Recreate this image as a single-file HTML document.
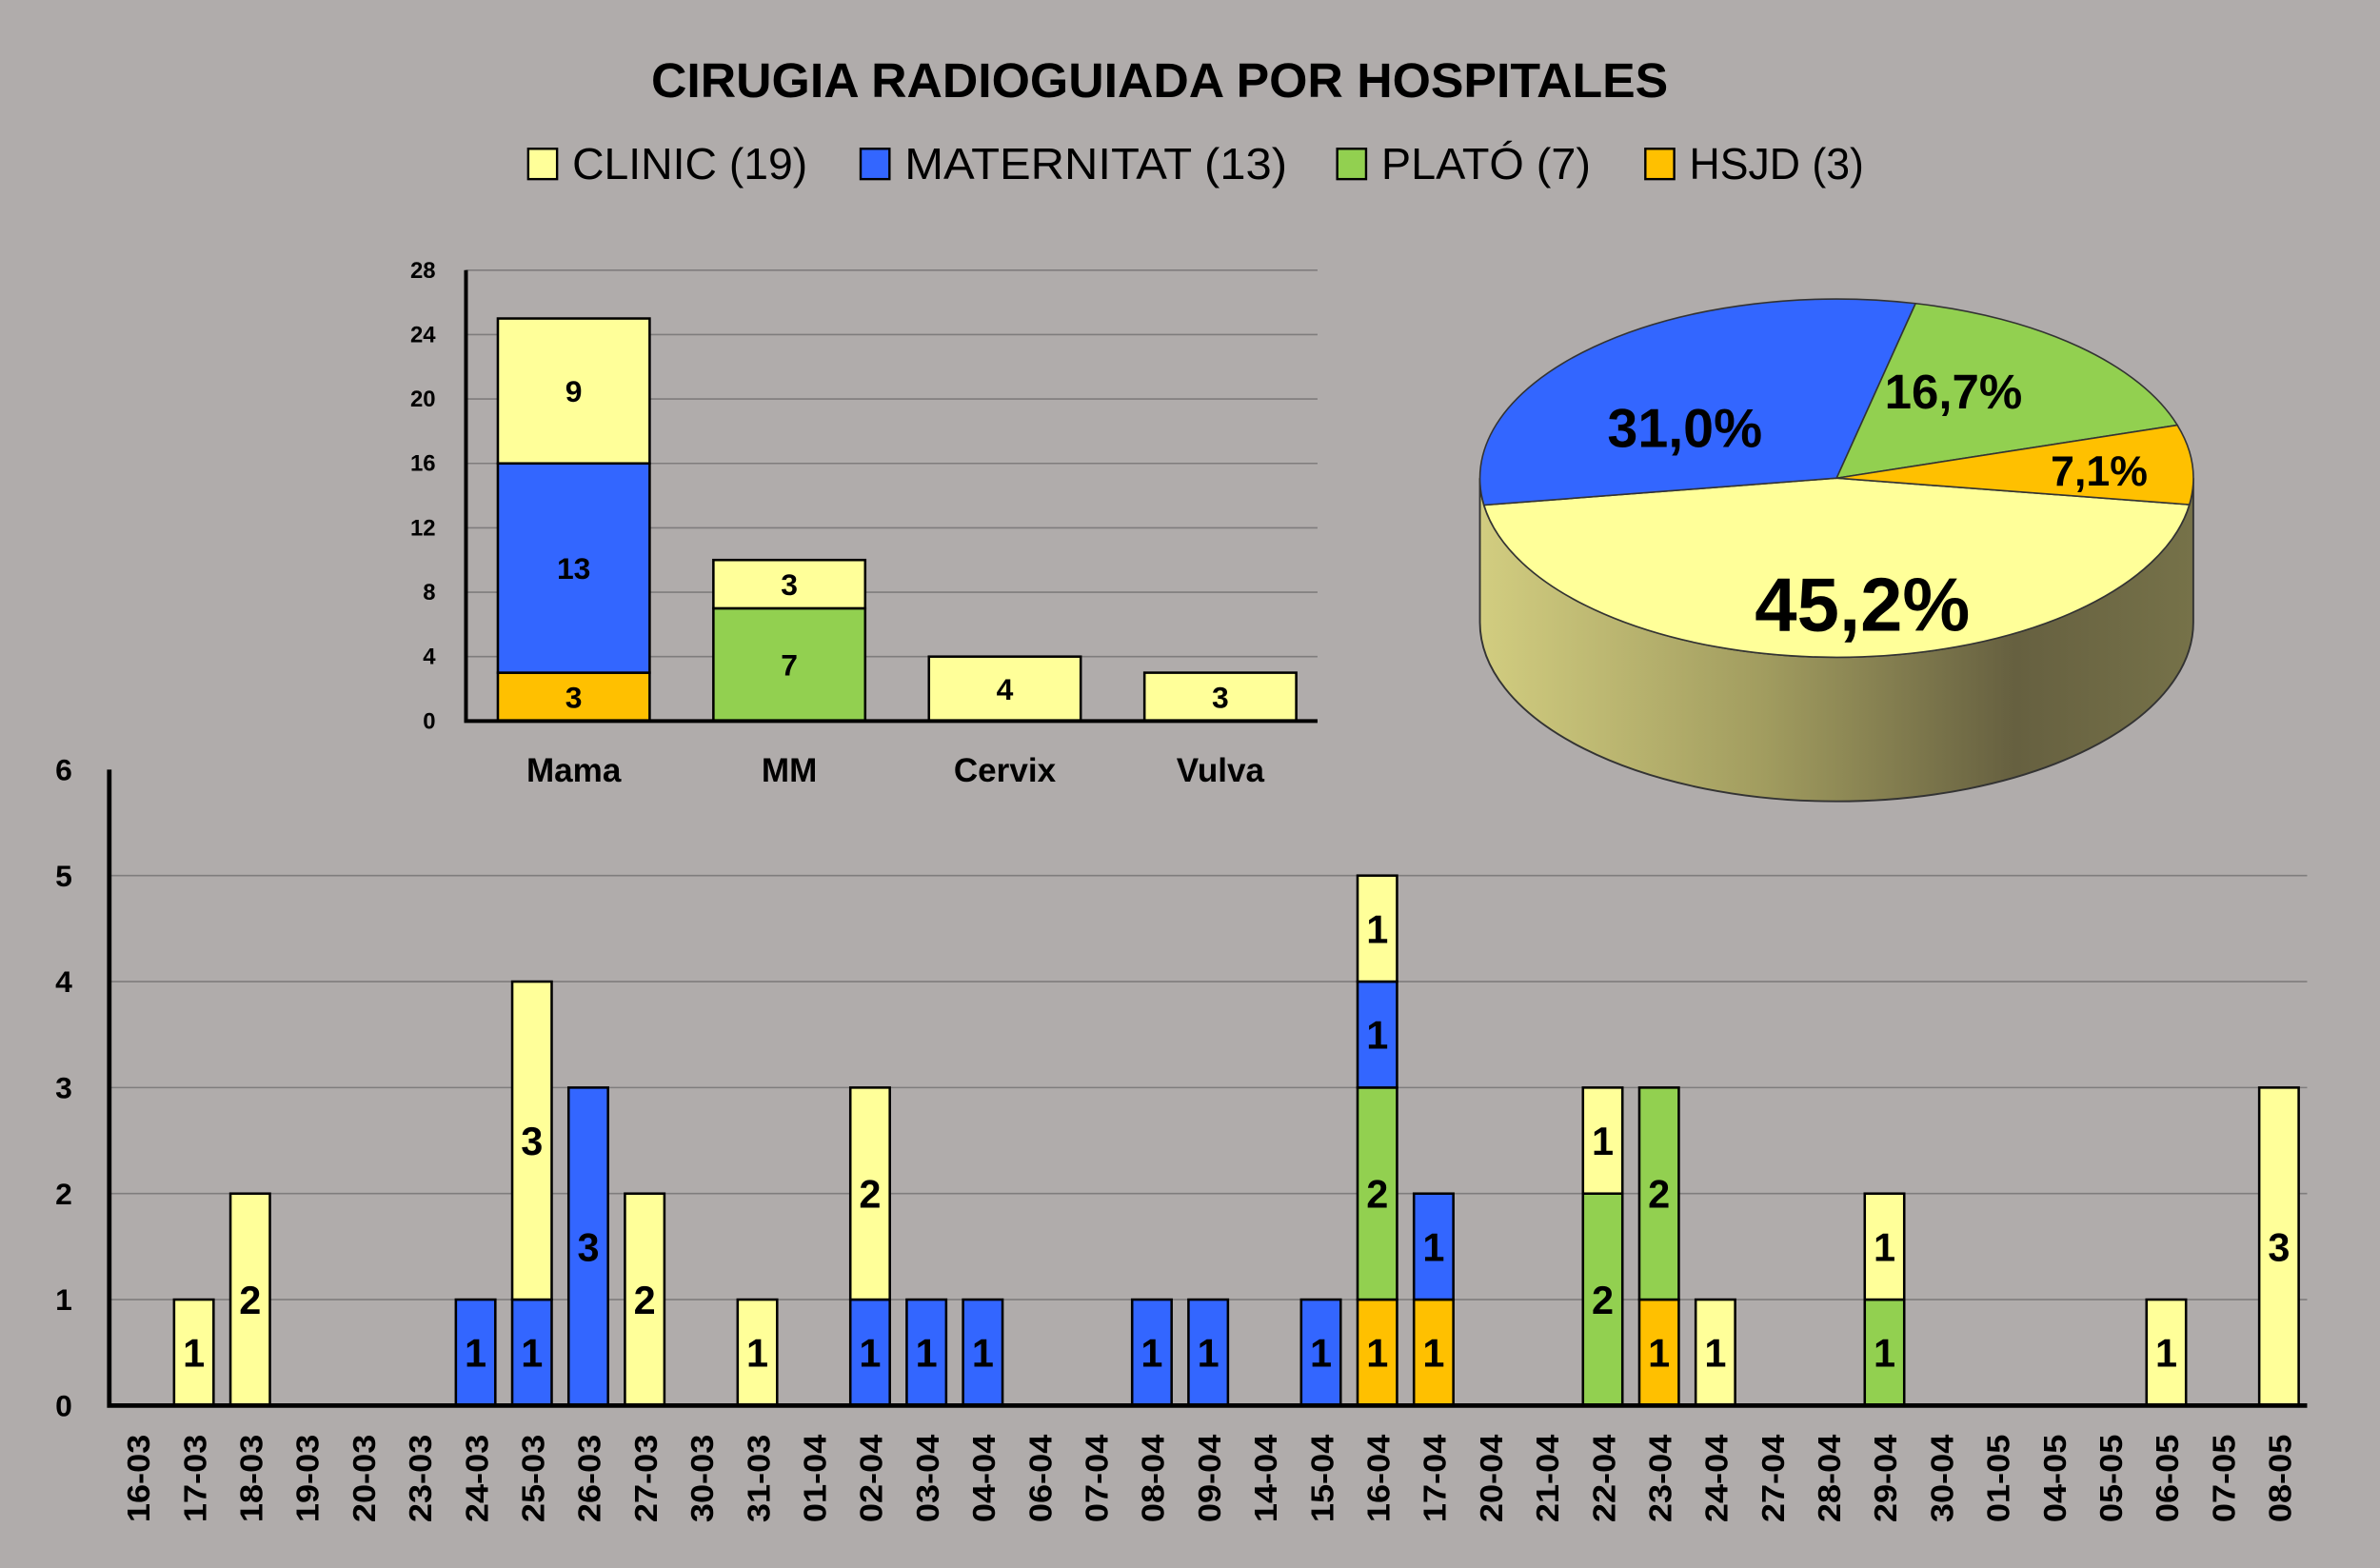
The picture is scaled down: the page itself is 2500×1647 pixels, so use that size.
<!DOCTYPE html>
<html><head><meta charset="utf-8">
<style>
html,body{margin:0;padding:0;background:#b0acab;}
svg{display:block;}
text{font-family:"Liberation Sans",sans-serif;}
</style></head>
<body>
<svg id="root" width="2500" height="1647" viewBox="0 0 1568 1033" preserveAspectRatio="none" xmlns="http://www.w3.org/2000/svg">
<defs>
<linearGradient id="wall" x1="0" x2="1" y1="0" y2="0">
<stop offset="0" stop-color="#d2cd80"/>
<stop offset="0.4" stop-color="#a19c5f"/>
<stop offset="0.75" stop-color="#666040"/>
<stop offset="1" stop-color="#767249"/>
</linearGradient>
</defs>
<rect x="0" y="0" width="1568" height="1033" fill="#b0acab"/>
<text x="764" y="64" text-anchor="middle" font-size="32" font-weight="bold" textLength="670" lengthAdjust="spacingAndGlyphs">CIRUGIA RADIOGUIADA POR HOSPITALES</text>
<g id="legend"></g>
<g id="small"></g>
<g id="pie"></g>
<g id="big"></g>
</svg>
<script>
const hospitals = ["CLINIC","MATERNITAT","PLATÓ","HSJD"];
const hospitalTotals = [19,13,7,3];
const colors = ["#ffff99","#3366ff","#92d050","#ffc000"];
const pieLabels = ["45,2%","31,0%","16,7%","7,1%"];

const smallCategories = ["Mama","MM","Cervix","Vulva"];
const smallClinic = [9,3,4,3];
const smallMaternitat = [13,0,0,0];
const smallPlato = [0,7,0,0];
const smallHsjd = [3,0,0,0];
const smallTicks = [0,4,8,12,16,20,24,28];

const dates = ["16-03","17-03","18-03","19-03","20-03","23-03","24-03","25-03","26-03","27-03","30-03","31-03","01-04","02-04","03-04","04-04","06-04","07-04","08-04","09-04","14-04","15-04","16-04","17-04","20-04","21-04","22-04","23-04","24-04","27-04","28-04","29-04","30-04","01-05","04-05","05-05","06-05","07-05","08-05"];
const dailyClinic =     [0,1,2,0,0,0,0,3,0,2,0,1,0,2,0,0,0,0,0,0,0,0,1,0,0,0,1,0,1,0,0,1,0,0,0,0,1,0,3];
const dailyMaternitat = [0,0,0,0,0,0,1,1,3,0,0,0,0,1,1,1,0,0,1,1,0,1,1,1,0,0,0,0,0,0,0,0,0,0,0,0,0,0,0];
const dailyPlato =      [0,0,0,0,0,0,0,0,0,0,0,0,0,0,0,0,0,0,0,0,0,0,2,0,0,0,2,2,0,0,0,1,0,0,0,0,0,0,0];
const dailyHsjd =       [0,0,0,0,0,0,0,0,0,0,0,0,0,0,0,0,0,0,0,0,0,0,1,1,0,0,0,1,0,0,0,0,0,0,0,0,0,0,0];
const bigTicks = [0,1,2,3,4,5,6];

const NS="http://www.w3.org/2000/svg";
function mk(tag,attrs,parent,txt){const e=document.createElementNS(NS,tag);for(const k in attrs)e.setAttribute(k,attrs[k]);if(txt!==undefined)e.textContent=txt;parent.appendChild(e);return e;}

(function(){
  const g=document.getElementById('legend');
  const boxX=[348,567,881,1084], tw=[155,252,138,115];
  hospitals.forEach((h,i)=>{
    const r=mk('rect',{x:boxX[i],y:98,width:19,height:20,fill:colors[i],stroke:'#000','stroke-width':1.5},g);
    
    
    const t=mk('text',{x:boxX[i]+29,y:118,'font-size':29,textLength:tw[i],lengthAdjust:'spacingAndGlyphs'},g,h+' ('+hospitalTotals[i]+')');
    
    
  });
})();

function stacked(g,cats,series,xL,band,bw,yOf,fs){
  cats.forEach((c,i)=>{
    const cx=xL+band*(i+0.5);let base=0;
    series.forEach(([vals,col,name])=>{
      const v=vals[i];if(!v)return;
      const y1=yOf(base+v),y0=yOf(base);
      const r=mk('rect',{x:cx-bw/2,y:y1,width:bw,height:y0-y1,fill:col,stroke:'#000','stroke-width':1.6},g);
      
      
      const t=mk('text',{x:cx,y:(y0+y1)/2+fs*0.36,'text-anchor':'middle','font-size':fs,'font-weight':'bold'},g,String(v));
      
      
      base+=v;
    });
  });
}

(function(){
  const g=document.getElementById('small');
  const x0=307,x1=868,y0=475,yTop=178,max=28;
  const yOf=v=>y0-(y0-yTop)*v/max;
  smallTicks.forEach(v=>{
    if(v>0){const l=mk('line',{x1:x0,x2:x1,y1:yOf(v),y2:yOf(v),stroke:'#7f7d7d','stroke-width':1},g);
    }
    const t=mk('text',{x:287,y:yOf(v)+5,'text-anchor':'end','font-size':15,'font-weight':'bold'},g,String(v));
    
  });
  const band=142;
  stacked(g,smallCategories,[[smallHsjd,colors[3],'hsjd'],[smallPlato,colors[2],'plato'],[smallMaternitat,colors[1],'maternitat'],[smallClinic,colors[0],'clinic']],x0,band,100,yOf,20);
  smallCategories.forEach((c,i)=>{
    const t=mk('text',{x:x0+band*(i+0.5),y:515,'text-anchor':'middle','font-size':22,'font-weight':'bold'},g,c);
    
  });
  const a=mk('path',{d:`M${x0} ${yTop} V${y0} H${x1}`,fill:'none',stroke:'#000','stroke-width':2.5},g);
  
})();

(function(){
  const g=document.getElementById('pie');
  const cx=1210,cy=315,rx=235,ry=118,depth=95;
  const P=(t)=>[cx+rx*Math.cos(t),cy+ry*Math.sin(t)];
  const w=mk('path',{d:`M${cx-rx} ${cy} A${rx} ${ry} 0 0 0 ${cx+rx} ${cy} V${cy+depth} A${rx} ${ry} 0 0 1 ${cx-rx} ${cy+depth} Z`,fill:'url(#wall)',stroke:'#333','stroke-width':1.2},g);
  
  const total=hospitalTotals.reduce((a,b)=>a+b,0);
  let t=8.5*Math.PI/180;
  const lblPos=[[1227,398,50],[1110,282,36],[1287,258,32],[1383,310,28]];
  hospitalTotals.forEach((v,i)=>{
    const sweep=v/total*2*Math.PI, t2=t+sweep;
    const a=P(t),b=P(t2);
    const s=mk('path',{d:`M${cx} ${cy} L${a[0]} ${a[1]} A${rx} ${ry} 0 ${sweep>Math.PI?1:0} 1 ${b[0]} ${b[1]} Z`,fill:colors[i],stroke:'#333','stroke-width':1},g);
    
    
    const lp=lblPos[i];
    const tx=mk('text',{x:lp[0],y:lp[1]+lp[2]*0.35,'text-anchor':'middle','font-size':lp[2],'font-weight':'bold'},g,pieLabels[i]);
    
    t=t2;
  });
})();

(function(){
  const g=document.getElementById('big');
  const x0=72,x1=1520,y0=926,yTop=507,max=6;
  const yOf=v=>y0-(y0-yTop)*v/max;
  bigTicks.forEach(v=>{
    if(v>0&&v<6){const l=mk('line',{x1:x0,x2:x1,y1:yOf(v),y2:yOf(v),stroke:'#7f7d7d','stroke-width':1},g);
    }
    const t=mk('text',{x:42,y:yOf(v)+7,'text-anchor':'middle','font-size':20,'font-weight':'bold'},g,String(v));
    
  });
  const band=(x1-x0)/dates.length;
  stacked(g,dates,[[dailyHsjd,colors[3],'hsjd'],[dailyPlato,colors[2],'plato'],[dailyMaternitat,colors[1],'maternitat'],[dailyClinic,colors[0],'clinic']],x0,band,26,yOf,26);
  dates.forEach((d,i)=>{
    const x=x0+band*(i+0.5);
    const t=mk('text',{x:0,y:0,'text-anchor':'end','font-size':21,'font-weight':'bold',textLength:58,lengthAdjust:'spacingAndGlyphs',transform:`translate(${x+8},${945}) rotate(-90)`},g,d);
    
  });
  const a=mk('path',{d:`M${x0} ${yTop} V${y0} H${x1}`,fill:'none',stroke:'#000','stroke-width':3},g);
  
})();
</script>
</body></html>
